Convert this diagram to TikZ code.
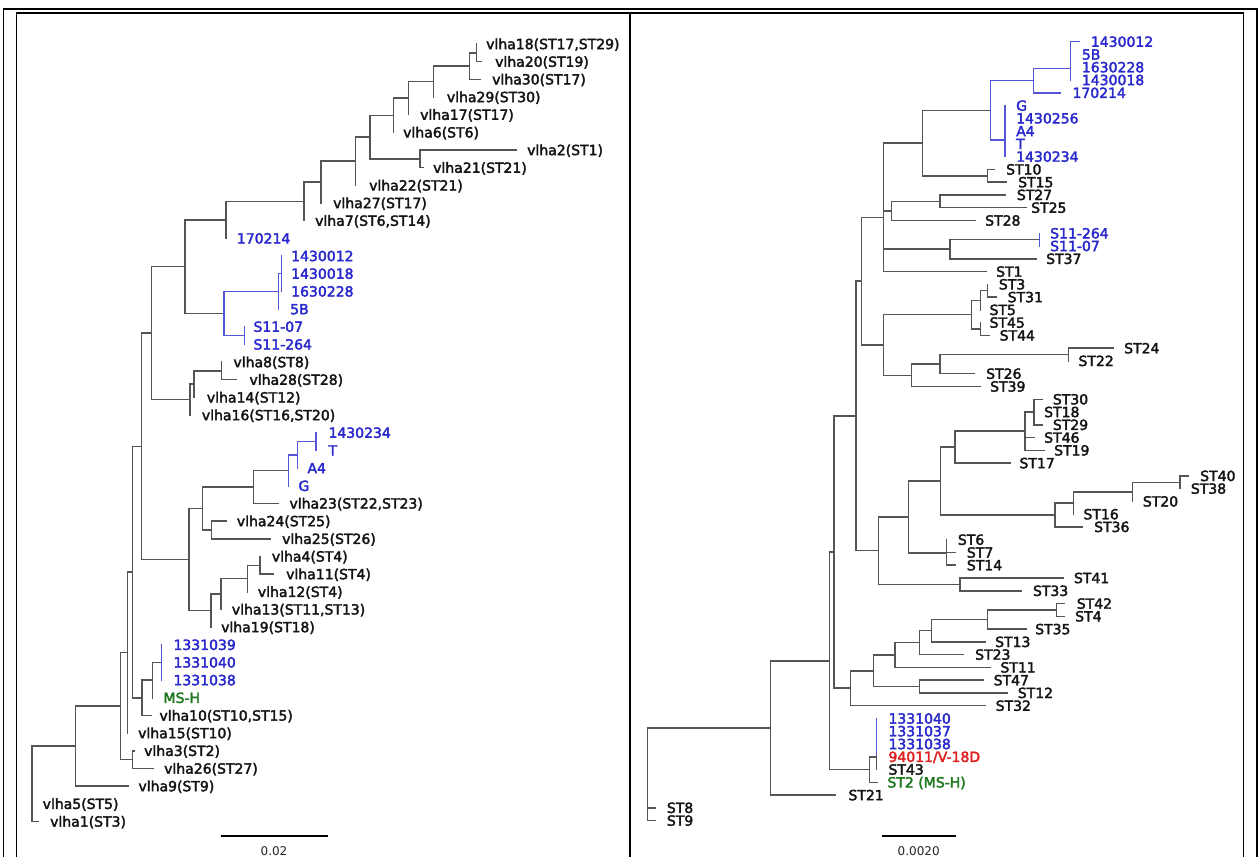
\documentclass[tikz,border=0pt]{standalone}
\usepackage{fontspec}
\newfontfamily\labfont[FakeBold=2.5]{DejaVu Sans}
\newfontfamily\sclfont{DejaVu Sans}
\definecolor{brc}{RGB}{85,85,85}
\definecolor{blc}{RGB}{85,85,215}
\definecolor{tblue}{RGB}{40,40,205}
\definecolor{tgreen}{RGB}{30,120,30}
\definecolor{tred}{RGB}{225,30,30}
\definecolor{tblack}{RGB}{20,20,20}
\newcommand\labsize{\labfont\fontsize{14pt}{14pt}\selectfont}
\newcommand\mkleaf[6]{\coordinate (#1) at (#2,#3);\node[lab,text=#5] (#1t) at (#4,#3) {#6};}
\newcommand\edk[2]{\draw[br] (#1) |- (#2);}
\newcommand\edb[2]{\draw[bb] (#1) |- (#2);}
\tikzset{
  br/.style={draw=brc,line width=1.5pt,line cap=rect},
  bb/.style={draw=blc,line width=1.4pt,line cap=rect},
  lab/.style={anchor=base west,inner sep=0pt,font=\labsize,yshift=-5.1pt},
  frm/.style={draw=black,line width=1.5pt},
  sbar/.style={draw=black,line width=2.2pt},
  stext/.style={inner sep=0pt,font=\sclfont\fontsize{12pt}{12pt}\selectfont,text=black!85}
}
\begin{document}
\begin{tikzpicture}[x=1pt,y=-1pt]
\useasboundingbox (0,0) rectangle (1260,857);
\fill[white] (0,0) rectangle (1260,857);
% frame
\draw[frm] (3.5,857) -- (3.5,9) -- (1257,9) -- (1257,857);
\draw[frm,line width=1.3pt] (16.5,857) -- (16.5,13) -- (1243.7,13) -- (1243.7,857);
\draw[frm,line width=1.3pt] (630,13) -- (630,857);

% ================= LEFT TREE =================
\mkleaf{l0}{476.7}{44.0}{486}{tblack}{vlha18(ST17,ST29)}
\mkleaf{l1}{481.7}{61.7}{495}{tblack}{vlha20(ST19)}
\mkleaf{l2}{480}{79.3}{492}{tblack}{vlha30(ST17)}
\mkleaf{l3}{433.3}{97.0}{446.7}{tblack}{vlha29(ST30)}
\mkleaf{l4}{408.3}{114.7}{420}{tblack}{vlha17(ST17)}
\mkleaf{l5}{393.3}{132.4}{403}{tblack}{vlha6(ST6)}
\mkleaf{l6}{516}{150.0}{527}{tblack}{vlha2(ST1)}
\mkleaf{l7}{423.5}{167.7}{433}{tblack}{vlha21(ST21)}
\mkleaf{l8}{355.3}{185.4}{369}{tblack}{vlha22(ST21)}
\mkleaf{l9}{321}{203.0}{333}{tblack}{vlha27(ST17)}
\mkleaf{l10}{304}{220.7}{315}{tblack}{vlha7(ST6,ST14)}
\mkleaf{l11}{226}{238.4}{236.7}{tblue}{170214}
\mkleaf{l12}{281.7}{256.0}{291}{tblue}{1430012}
\mkleaf{l13}{281.7}{273.7}{291}{tblue}{1430018}
\mkleaf{l14}{281.7}{291.4}{291}{tblue}{1630228}
\mkleaf{l15}{278.3}{309.1}{290}{tblue}{5B}
\mkleaf{l16}{244.3}{326.7}{253.3}{tblue}{S11-07}
\mkleaf{l17}{244.3}{344.4}{253.3}{tblue}{S11-264}
\mkleaf{l18}{221.7}{362.1}{233.3}{tblack}{vlha8(ST8)}
\mkleaf{l19}{236.7}{379.7}{249.3}{tblack}{vlha28(ST28)}
\mkleaf{l20}{194}{397.4}{206.7}{tblack}{vlha14(ST12)}
\mkleaf{l21}{190}{415.1}{201.7}{tblack}{vlha16(ST16,ST20)}
\mkleaf{l22}{316}{432.7}{328.3}{tblue}{1430234}
\mkleaf{l23}{316}{450.4}{328.3}{tblue}{T}
\mkleaf{l24}{297.7}{468.1}{307.3}{tblue}{A4}
\mkleaf{l25}{288.3}{485.8}{298.3}{tblue}{G}
\mkleaf{l26}{278.3}{503.4}{289.3}{tblack}{vlha23(ST22,ST23)}
\mkleaf{l27}{226.7}{521.1}{236.7}{tblack}{vlha24(ST25)}
\mkleaf{l28}{270}{538.8}{282}{tblack}{vlha25(ST26)}
\mkleaf{l29}{260}{556.4}{271.7}{tblack}{vlha4(ST4)}
\mkleaf{l30}{273.3}{574.1}{286}{tblack}{vlha11(ST4)}
\mkleaf{l31}{247.3}{591.8}{257.7}{tblack}{vlha12(ST4)}
\mkleaf{l32}{221}{609.4}{231.7}{tblack}{vlha13(ST11,ST13)}
\mkleaf{l33}{211}{627.1}{221}{tblack}{vlha19(ST18)}
\mkleaf{l34}{161.7}{644.8}{173.3}{tblue}{1331039}
\mkleaf{l35}{161.7}{662.4}{173.3}{tblue}{1331040}
\mkleaf{l36}{161.7}{680.1}{173.3}{tblue}{1331038}
\mkleaf{l37}{152.7}{697.8}{163.3}{tgreen}{MS-H}
\mkleaf{l38}{151.7}{715.5}{159.3}{tblack}{vlha10(ST10,ST15)}
\mkleaf{l39}{127.7}{733.1}{138}{tblack}{vlha15(ST10)}
\mkleaf{l40}{134.5}{750.8}{144}{tblack}{vlha3(ST2)}
\mkleaf{l41}{153}{768.5}{164}{tblack}{vlha26(ST27)}
\mkleaf{l42}{128}{786.1}{138.3}{tblack}{vlha9(ST9)}
\mkleaf{l43}{32}{803.8}{42.5}{tblack}{vlha5(ST5)}
\mkleaf{l44}{38}{821.5}{50}{tblack}{vlha1(ST3)}

\coordinate (lR) at (32,746.1);
\coordinate (lA) at (75.5,746.1);
\coordinate (lZ) at (120.5,706.1);
\coordinate (lW) at (132.5,759.6);
\coordinate (lY) at (127.7,652.6);
\coordinate (lX) at (132.5,572.1);
\coordinate (lM) at (142,697.8);
\coordinate (lM2) at (152.7,680.1);
\coordinate (lM3) at (161.7,662.5);
\coordinate (lP1) at (141.7,446.4);
\coordinate (lP2) at (151.7,333.2);
\coordinate (lP3) at (185,266.7);
\coordinate (lP5) at (226,219.9);
\coordinate (lP6) at (304,201.4);
\coordinate (lP7) at (321,182.1);
\coordinate (lP8) at (355.3,161.2);
\coordinate (lP9) at (370,137.1);
\coordinate (lP10) at (393.3,115.25);
\coordinate (lP11) at (420,158.9);
\coordinate (lP12) at (408.3,98.1);
\coordinate (lP13) at (433.3,81.5);
\coordinate (lP14) at (469.3,66);
\coordinate (lP15) at (476.7,52.8);
\coordinate (lB1) at (224,313.5);
\coordinate (lB2) at (278.3,291.4);
\coordinate (lB2a) at (281.7,273.7);
\coordinate (lB3) at (244.3,335.6);
\coordinate (lP4) at (190,399.6);
\coordinate (lP4a) at (194,384.2);
\coordinate (lP4b) at (221.7,370.9);
\coordinate (lQ1) at (189,559.5);
\coordinate (lQ2) at (202.7,508.5);
\coordinate (lQ4) at (253.3,486.9);
\coordinate (lG1) at (288.3,470.4);
\coordinate (lG2) at (297.7,454.9);
\coordinate (lG3) at (316,441.6);
\coordinate (lQ5) at (211.7,530);
\coordinate (lQ3) at (211,610.6);
\coordinate (lQ6) at (221,594);
\coordinate (lQ7) at (247.3,578.6);
\coordinate (lQ8) at (260,565.3);

\edk{lR}{lA}\edk{lR}{l43}\edk{lR}{l44}
\edk{lA}{lZ}\edk{lA}{l42}
\edk{lZ}{lY}\edk{lZ}{lW}
\edk{lW}{l40}\edk{lW}{l41}
\edk{lY}{lX}\edk{lY}{l39}
\edk{lX}{lP1}\edk{lX}{lM}
\edk{lM}{lM2}\edk{lM}{l38}
\edk{lM2}{lM3}\edk{lM2}{l37}
\edb{lM3}{l34}\edb{lM3}{l35}\edb{lM3}{l36}
\edk{lP1}{lP2}\edk{lP1}{lQ1}
\edk{lP2}{lP3}\edk{lP2}{lP4}
\edk{lP3}{lP5}\edk{lP3}{lB1}
\edk{lP5}{lP6}\edk{lP5}{l11}
\edk{lP6}{lP7}\edk{lP6}{l10}
\edk{lP7}{lP8}\edk{lP7}{l9}
\edk{lP8}{lP9}\edk{lP8}{l8}
\edk{lP9}{lP10}\edk{lP9}{lP11}
\edk{lP11}{l6}\edk{lP11}{l7}
\edk{lP10}{lP12}\edk{lP10}{l5}
\edk{lP12}{lP13}\edk{lP12}{l4}
\edk{lP13}{lP14}\edk{lP13}{l3}
\edk{lP14}{lP15}\edk{lP14}{l2}
\edk{lP15}{l0}\edk{lP15}{l1}
\edb{lB1}{lB2}\edb{lB1}{lB3}
\edb{lB2}{lB2a}\edb{lB2}{l15}
\edb{lB2a}{l12}\edb{lB2a}{l13}\edb{lB2a}{l14}
\edb{lB3}{l16}\edb{lB3}{l17}
\edk{lP4}{lP4a}\edk{lP4}{l21}
\edk{lP4a}{lP4b}\edk{lP4a}{l20}
\edk{lP4b}{l18}\edk{lP4b}{l19}
\edk{lQ1}{lQ2}\edk{lQ1}{lQ3}
\edk{lQ2}{lQ4}\edk{lQ2}{lQ5}
\edk{lQ4}{lG1}\edk{lQ4}{l26}
\edb{lG1}{lG2}\edb{lG1}{l25}
\edb{lG2}{lG3}\edb{lG2}{l24}
\edb{lG3}{l22}\edb{lG3}{l23}
\edk{lQ5}{l27}\edk{lQ5}{l28}
\edk{lQ3}{lQ6}\edk{lQ3}{l33}
\edk{lQ6}{lQ7}\edk{lQ6}{l32}
\edk{lQ7}{lQ8}\edk{lQ7}{l31}
\edk{lQ8}{l29}\edk{lQ8}{l30}

% scale bar left
\coordinate (sla) at (220.7,836);
\coordinate (slb) at (328.3,836);
\draw[sbar] (sla) -- (slb);
\node[stext] (slt) at (274,851.5) {0.02};

% ================= RIGHT TREE =================
\mkleaf{r0}{1079.3}{41.7}{1090.7}{tblue}{1430012}
\mkleaf{r1}{1070.7}{54.5}{1081.7}{tblue}{5B}
\mkleaf{r2}{1070.7}{67.2}{1081.7}{tblue}{1630228}
\mkleaf{r3}{1070.7}{80.0}{1081.7}{tblue}{1430018}
\mkleaf{r4}{1060}{92.8}{1072.3}{tblue}{170214}
\mkleaf{r5}{1005}{105.6}{1016}{tblue}{G}
\mkleaf{r6}{1005}{118.3}{1016}{tblue}{1430256}
\mkleaf{r7}{1005}{131.1}{1016}{tblue}{A4}
\mkleaf{r8}{1005}{143.9}{1016}{tblue}{T}
\mkleaf{r9}{1005}{156.6}{1016}{tblue}{1430234}
\mkleaf{r10}{994}{169.4}{1006}{tblack}{ST10}
\mkleaf{r11}{1006.7}{182.2}{1018}{tblack}{ST15}
\mkleaf{r12}{1005}{194.9}{1016.7}{tblack}{ST27}
\mkleaf{r13}{1026}{207.7}{1031}{tblack}{ST25}
\mkleaf{r14}{975}{220.5}{985}{tblack}{ST28}
\mkleaf{r15}{1039.3}{233.3}{1050}{tblue}{S11-264}
\mkleaf{r16}{1039.3}{246.0}{1050}{tblue}{S11-07}
\mkleaf{r17}{1036.7}{258.8}{1046}{tblack}{ST37}
\mkleaf{r18}{986.7}{271.6}{996}{tblack}{ST1}
\mkleaf{r19}{987.4}{284.3}{998.7}{tblack}{ST3}
\mkleaf{r20}{996}{297.1}{1007.5}{tblack}{ST31}
\mkleaf{r21}{980.6}{309.9}{989.4}{tblack}{ST5}
\mkleaf{r22}{980.6}{322.6}{989.4}{tblack}{ST45}
\mkleaf{r23}{989.4}{335.4}{999.5}{tblack}{ST44}
\mkleaf{r24}{1113.3}{348.2}{1124}{tblack}{ST24}
\mkleaf{r25}{1068.3}{360.9}{1078.3}{tblack}{ST22}
\mkleaf{r26}{974}{373.7}{986}{tblack}{ST26}
\mkleaf{r27}{980.7}{386.5}{990}{tblack}{ST39}
\mkleaf{r28}{1042.7}{399.3}{1052.7}{tblack}{ST30}
\mkleaf{r29}{1034}{412.0}{1044}{tblack}{ST18}
\mkleaf{r30}{1042.7}{424.8}{1052.7}{tblack}{ST29}
\mkleaf{r31}{1034}{437.6}{1044}{tblack}{ST46}
\mkleaf{r32}{1044}{450.3}{1054}{tblack}{ST19}
\mkleaf{r33}{1010}{463.1}{1019.3}{tblack}{ST17}
\mkleaf{r34}{1188.3}{475.9}{1200}{tblack}{ST40}
\mkleaf{r35}{1180}{488.6}{1190.7}{tblack}{ST38}
\mkleaf{r36}{1132.7}{501.4}{1142.7}{tblack}{ST20}
\mkleaf{r37}{1073.3}{514.2}{1083.3}{tblack}{ST16}
\mkleaf{r38}{1082}{526.9}{1094}{tblack}{ST36}
\mkleaf{r39}{946.7}{539.7}{957.7}{tblack}{ST6}
\mkleaf{r40}{955}{552.5}{966.7}{tblack}{ST7}
\mkleaf{r41}{955}{565.2}{966.7}{tblack}{ST14}
\mkleaf{r42}{1063}{578.0}{1073.8}{tblack}{ST41}
\mkleaf{r43}{1021.6}{590.8}{1032.8}{tblack}{ST33}
\mkleaf{r44}{1064}{603.6}{1076.6}{tblack}{ST42}
\mkleaf{r45}{1064}{616.3}{1075}{tblack}{ST4}
\mkleaf{r46}{1026}{629.1}{1035}{tblack}{ST35}
\mkleaf{r47}{985}{641.9}{995}{tblack}{ST13}
\mkleaf{r48}{963.3}{654.6}{975}{tblack}{ST23}
\mkleaf{r49}{990.6}{667.4}{1000.3}{tblack}{ST11}
\mkleaf{r50}{983.4}{680.2}{993.5}{tblack}{ST47}
\mkleaf{r51}{1007.5}{692.9}{1017.6}{tblack}{ST12}
\mkleaf{r52}{985.4}{705.7}{995.5}{tblack}{ST32}
\mkleaf{r53}{876.7}{718.5}{888.3}{tblue}{1331040}
\mkleaf{r54}{876.7}{731.2}{888.3}{tblue}{1331037}
\mkleaf{r55}{876.7}{744.0}{888.3}{tblue}{1331038}
\mkleaf{r56}{876.7}{756.8}{888.3}{tred}{94011/V-18D}
\mkleaf{r57}{876.7}{769.5}{888.3}{tblack}{ST43}
\mkleaf{r58}{877.3}{782.3}{887.3}{tgreen}{ST2 (MS-H)}
\mkleaf{r59}{835}{795.1}{848.3}{tblack}{ST21}
\mkleaf{r60}{655}{807.8}{666.7}{tblack}{ST8}
\mkleaf{r61}{655}{820.6}{666.7}{tblack}{ST9}

\coordinate (rR) at (647.3,728);
\coordinate (rS) at (770.7,728);
\coordinate (rT0) at (829.3,660.9);
\coordinate (rT1) at (834,552.1);
\coordinate (rT2) at (856,416);
\coordinate (rT3) at (861.7,281.2);
\coordinate (rT4) at (883.3,217.3);
\coordinate (rY1) at (922.7,143);
\coordinate (rY4) at (990.7,110.3);
\coordinate (rY6) at (1033.3,80.5);
\coordinate (rY8) at (1070.7,68.3);
\coordinate (rY7) at (1005,140);
\coordinate (rY5) at (987.3,175.8);
\coordinate (rY2) at (891.7,210.9);
\coordinate (rY9) at (940,201.3);
\coordinate (rY3) at (950,249.2);
\coordinate (rY10) at (1039.3,239.7);
\coordinate (rX1) at (883.3,345);
\coordinate (rS1) at (971.4,314.7);
\coordinate (rS2) at (980.6,300.3);
\coordinate (rS4) at (987.4,290.7);
\coordinate (rS3) at (980.6,329);
\coordinate (rX2) at (911.7,375.3);
\coordinate (rX3) at (940,364.1);
\coordinate (rX4) at (1068.3,354.6);
\coordinate (rW1) at (878.3,550.7);
\coordinate (rW2) at (908.3,517);
\coordinate (rW4) at (940.7,481.1);
\coordinate (rW6) at (955,447.2);
\coordinate (rW8) at (1025,431.2);
\coordinate (rW9) at (1034,412);
\coordinate (rW7) at (1055,515);
\coordinate (rW10) at (1073.3,503);
\coordinate (rW11) at (1132.7,491.9);
\coordinate (rW12) at (1180,482.3);
\coordinate (rW5) at (946.7,553);
\coordinate (rW3) at (960,584.4);
\coordinate (rV1) at (850.7,688.2);
\coordinate (rV2) at (873.3,670.8);
\coordinate (rV3) at (895,655);
\coordinate (rV5) at (919.3,642.7);
\coordinate (rV6) at (931.7,630.7);
\coordinate (rV7) at (987.3,619.5);
\coordinate (rV8) at (1056.5,610);
\coordinate (rV4) at (919.3,686.5);
\coordinate (rU1) at (869.3,769.6);
\coordinate (rU2) at (876.7,757);

\edk{rR}{rS}\edk{rR}{r60}\edk{rR}{r61}
\edk{rS}{rT0}\edk{rS}{r59}
\edk{rT0}{rT1}\edk{rT0}{rU1}
\edk{rU1}{rU2}\edk{rU1}{r58}
\edb{rU2}{r53}\edb{rU2}{r54}\edb{rU2}{r55}\edk{rU2}{r56}\edk{rU2}{r57}
\edk{rT1}{rT2}\edk{rT1}{rV1}
\edk{rT2}{rT3}\edk{rT2}{rW1}
\edk{rT3}{rT4}\edk{rT3}{rX1}
\edk{rT4}{rY1}\edk{rT4}{rY2}\edk{rT4}{rY3}\edk{rT4}{r18}
\edk{rY1}{rY4}\edk{rY1}{rY5}
\edb{rY4}{rY6}\edb{rY4}{rY7}
\edb{rY6}{rY8}\edb{rY6}{r4}
\edb{rY8}{r0}\edb{rY8}{r1}\edb{rY8}{r2}\edb{rY8}{r3}
\edb{rY7}{r5}\edb{rY7}{r6}\edb{rY7}{r7}\edb{rY7}{r8}\edb{rY7}{r9}
\edk{rY5}{r10}\edk{rY5}{r11}
\edk{rY2}{rY9}\edk{rY2}{r14}
\edk{rY9}{r12}\edk{rY9}{r13}
\edk{rY3}{rY10}\edk{rY3}{r17}
\edb{rY10}{r15}\edb{rY10}{r16}
\edk{rX1}{rS1}\edk{rX1}{rX2}
\edk{rS1}{rS2}\edk{rS1}{rS3}
\edk{rS2}{rS4}\edk{rS2}{r21}
\edk{rS4}{r19}\edk{rS4}{r20}
\edk{rS3}{r22}\edk{rS3}{r23}
\edk{rX2}{rX3}\edk{rX2}{r27}
\edk{rX3}{rX4}\edk{rX3}{r26}
\edk{rX4}{r24}\edk{rX4}{r25}
\edk{rW1}{rW2}\edk{rW1}{rW3}
\edk{rW3}{r42}\edk{rW3}{r43}
\edk{rW2}{rW4}\edk{rW2}{rW5}
\edk{rW5}{r39}\edk{rW5}{r40}\edk{rW5}{r41}
\edk{rW4}{rW6}\edk{rW4}{rW7}
\edk{rW6}{rW8}\edk{rW6}{r33}
\edk{rW8}{rW9}\edk{rW8}{r31}\edk{rW8}{r32}
\edk{rW9}{r28}\edk{rW9}{r29}\edk{rW9}{r30}
\edk{rW7}{rW10}\edk{rW7}{r38}
\edk{rW10}{rW11}\edk{rW10}{r37}
\edk{rW11}{rW12}\edk{rW11}{r36}
\edk{rW12}{r34}\edk{rW12}{r35}
\edk{rV1}{rV2}\edk{rV1}{r52}
\edk{rV2}{rV3}\edk{rV2}{rV4}
\edk{rV4}{r50}\edk{rV4}{r51}
\edk{rV3}{rV5}\edk{rV3}{r49}
\edk{rV5}{rV6}\edk{rV5}{r48}
\edk{rV6}{rV7}\edk{rV6}{r47}
\edk{rV7}{rV8}\edk{rV7}{r46}
\edk{rV8}{r44}\edk{rV8}{r45}

% scale bar right
\coordinate (sra) at (881.7,836);
\coordinate (srb) at (956,836);
\draw[sbar] (sra) -- (srb);
\node[stext] (srt) at (918.7,851) {0.0020};
\end{tikzpicture}
\end{document}
